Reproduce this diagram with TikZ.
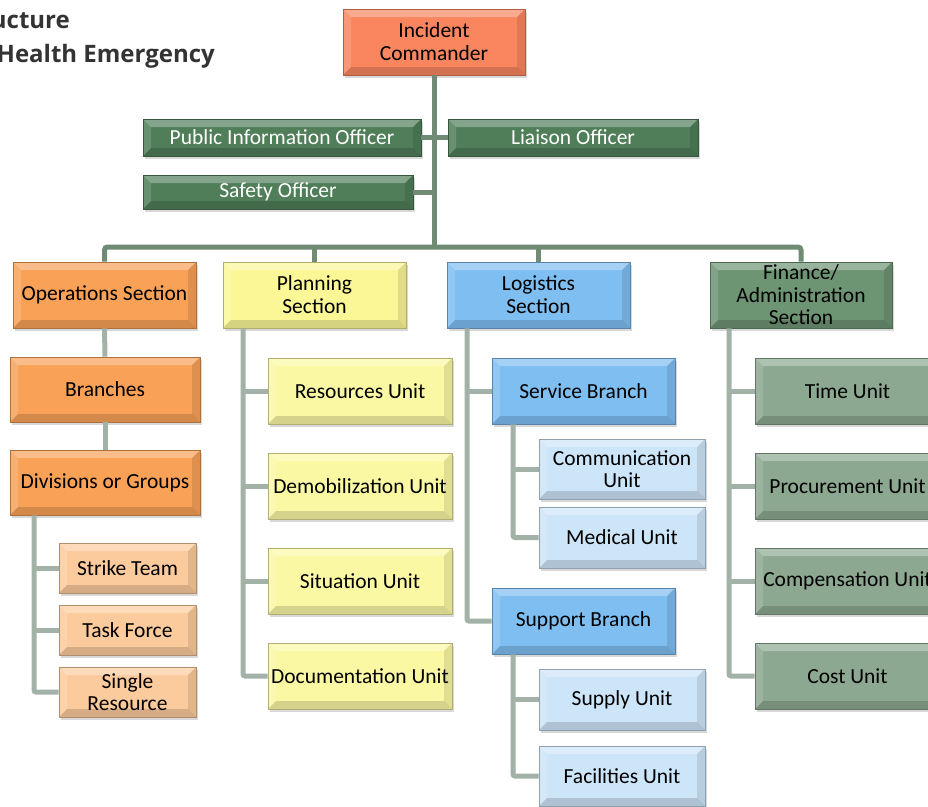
\documentclass[tikz,border=0pt]{standalone}
\usepackage{fontspec}
\setmainfont{Carlito}
\newfontfamily\ttlfont{Open Sans}
\usetikzlibrary{shadows}
\definecolor{cmdr}{HTML}{F9865F}
\definecolor{offc}{HTML}{4F7E59}
\definecolor{opsc}{HTML}{F9A157}
\definecolor{opsl}{HTML}{FCCB9D}
\definecolor{plnc}{HTML}{FBF797}
\definecolor{plnl}{HTML}{FBF8A4}
\definecolor{logc}{HTML}{7EBEF1}
\definecolor{logl}{HTML}{CDE5F8}
\definecolor{finc}{HTML}{6D9473}
\definecolor{finl}{HTML}{8CA891}
\definecolor{busc}{HTML}{6F8B74}
\definecolor{subc}{HTML}{A3B2A6}
\definecolor{ttl}{HTML}{333333}
\tikzset{
  bevel/.style={path picture={
    \fill[white,opacity=.3] (path picture bounding box.north west) -- (path picture bounding box.north east)
      -- ([shift={(-8pt,-8pt)}]path picture bounding box.north east) -- ([shift={(8pt,-8pt)}]path picture bounding box.north west) -- cycle;
    \fill[white,opacity=.15] (path picture bounding box.north west) -- ([shift={(8pt,-8pt)}]path picture bounding box.north west)
      -- ([shift={(8pt,8pt)}]path picture bounding box.south west) -- (path picture bounding box.south west) -- cycle;
    \fill[black,opacity=.15] (path picture bounding box.south west) -- ([shift={(8pt,8pt)}]path picture bounding box.south west)
      -- ([shift={(-8pt,8pt)}]path picture bounding box.south east) -- (path picture bounding box.south east) -- cycle;
    \fill[black,opacity=.1] (path picture bounding box.north east) -- ([shift={(-8pt,-8pt)}]path picture bounding box.north east)
      -- ([shift={(-8pt,8pt)}]path picture bounding box.south east) -- (path picture bounding box.south east) -- cycle;
  }},
  box/.style={fill=#1, draw=#1!70!black, line width=0.8pt, bevel,
    drop shadow={shadow xshift=1.5pt, shadow yshift=-3pt, opacity=.3},
    align=center, inner sep=1pt, text=black,
    font=\fontsize{21.5}{23}\selectfont},
  bus/.style={draw=busc, line width=5pt},
  sub/.style={draw=subc, line width=5pt, rounded corners=2pt},
  ttlstyle/.style={anchor=base east, font=\ttlfont\fontsize{24}{28}\selectfont\bfseries, text=ttl, inner sep=0},
}
\begin{document}
\begin{tikzpicture}[x=1pt,y=-1pt]
\useasboundingbox (0,0) rectangle (928,806);
\clip (0,0) rectangle (928,806);
\fill[white] (0,0) rectangle (928,806);
% title
\node[ttlstyle] (t1) at (70,28) {ucture};
\node[ttlstyle] (t2) at (215,62) {Health Emergency};
% coordinates for spines
\coordinate (busy) at (0,247);
\coordinate (dsp) at (34,0);
\coordinate (psp) at (243,0);
\coordinate (lsp) at (467,0);
\coordinate (ssp) at (513,0);
\coordinate (fsp) at (729,0);
% nodes
\node[box=cmdr, minimum width=182, minimum height=66] (ic) at (434,42) {Incident\\Commander};
\node[box=offc, text=white, minimum width=278, minimum height=37] (pio) at (282,137.5) {Public Information Officer};
\node[box=offc, text=white, minimum width=250, minimum height=37] (lo) at (573,137.5) {Liaison Officer};
\node[box=offc, text=white, minimum width=270, minimum height=34] (so) at (278,192) {Safety Officer};
% connectors top
\draw[bus] (ic.south) -- (ic.south |- busy);
\draw[bus] (pio.east) -- (lo.west);
\draw[bus] (so.east) -- (so.east -| ic.south);
% sections
\node[box=opsc, minimum width=183, minimum height=66] (ops) at (104.5,295) {Operations Section};
\node[box=plnc, minimum width=183, minimum height=66] (plan) at (314.5,295) {Planning\\Section};
\node[box=logc, minimum width=183, minimum height=66] (log) at (538.5,295) {Logistics\\Section};
\node[box=finc, minimum width=182, minimum height=66, font=\fontsize{21.5}{22.5}\selectfont] (fin) at (801,295) {Finance/\\Administration\\Section};
\draw[bus, rounded corners=3pt] (ops.north) |- (fin.north |- busy) -- (fin.north);
\draw[bus] (plan.north) -- (plan.north |- busy);
\draw[bus] (log.north) -- (log.north |- busy);
% operations
\node[box=opsc, minimum width=190, minimum height=65] (br) at (105,389.5) {Branches};
\node[box=opsc, minimum width=190, minimum height=65] (div) at (105,482.5) {Divisions or Groups};
\node[box=opsl, minimum width=137, minimum height=50] (st) at (127.5,568) {Strike Team};
\node[box=opsl, minimum width=137, minimum height=50] (tf) at (127.5,630) {Task Force};
\node[box=opsl, minimum width=137, minimum height=50, font=\fontsize{21.5}{22.5}\selectfont] (sr) at (127.5,692) {Single\\Resource};
% planning
\node[box=plnl, minimum width=184, minimum height=66] (ru) at (360,391) {Resources Unit};
\node[box=plnl, minimum width=184, minimum height=66] (du) at (360,486) {Demobilization Unit};
\node[box=plnl, minimum width=184, minimum height=66] (su) at (360,581) {Situation Unit};
\node[box=plnl, minimum width=184, minimum height=66] (docu) at (360,676) {Documentation Unit};
% logistics
\node[box=logc, minimum width=183, minimum height=66] (sb) at (583.5,391) {Service Branch};
\node[box=logc, minimum width=183, minimum height=66] (supb) at (583.5,621) {Support Branch};
\node[box=logl, minimum width=166, minimum height=60, font=\fontsize{21.5}{22.5}\selectfont] (cu) at (622,469) {Communication\\Unit};
\node[box=logl, minimum width=166, minimum height=61] (mu) at (622,537.5) {Medical Unit};
\node[box=logl, minimum width=166, minimum height=61] (supu) at (622,699.5) {Supply Unit};
\node[box=logl, minimum width=166, minimum height=60] (fu) at (622,776) {Facilities Unit};
% finance
\node[box=finl, minimum width=185, minimum height=66] (tu) at (847.5,391) {Time Unit};
\node[box=finl, minimum width=185, minimum height=66] (pu) at (847.5,486) {Procurement Unit};
\node[box=finl, minimum width=185, minimum height=66] (cpu) at (847.5,581) {Compensation Unit};
\node[box=finl, minimum width=185, minimum height=66] (cou) at (847.5,676) {Cost Unit};
% lower connectors
\draw[sub] (ops.south) -- (br.north);
\draw[sub] (br.south) -- (div.north);
\draw[sub] (div.south -| dsp) |- (sr.west);
\draw[sub] (dsp |- st.west) -- (st.west);
\draw[sub] (dsp |- tf.west) -- (tf.west);
\draw[sub] (plan.south -| psp) |- (docu.west);
\draw[sub] (psp |- ru.west) -- (ru.west);
\draw[sub] (psp |- du.west) -- (du.west);
\draw[sub] (psp |- su.west) -- (su.west);
\draw[sub] (log.south -| lsp) |- (supb.west);
\draw[sub] (lsp |- sb.west) -- (sb.west);
\draw[sub] (sb.south -| ssp) |- (mu.west);
\draw[sub] (ssp |- cu.west) -- (cu.west);
\draw[sub] (supb.south -| ssp) |- (fu.west);
\draw[sub] (ssp |- supu.west) -- (supu.west);
\draw[sub] (fin.south -| fsp) |- (cou.west);
\draw[sub] (fsp |- tu.west) -- (tu.west);
\draw[sub] (fsp |- pu.west) -- (pu.west);
\draw[sub] (fsp |- cpu.west) -- (cpu.west);
\end{tikzpicture}
\end{document}
